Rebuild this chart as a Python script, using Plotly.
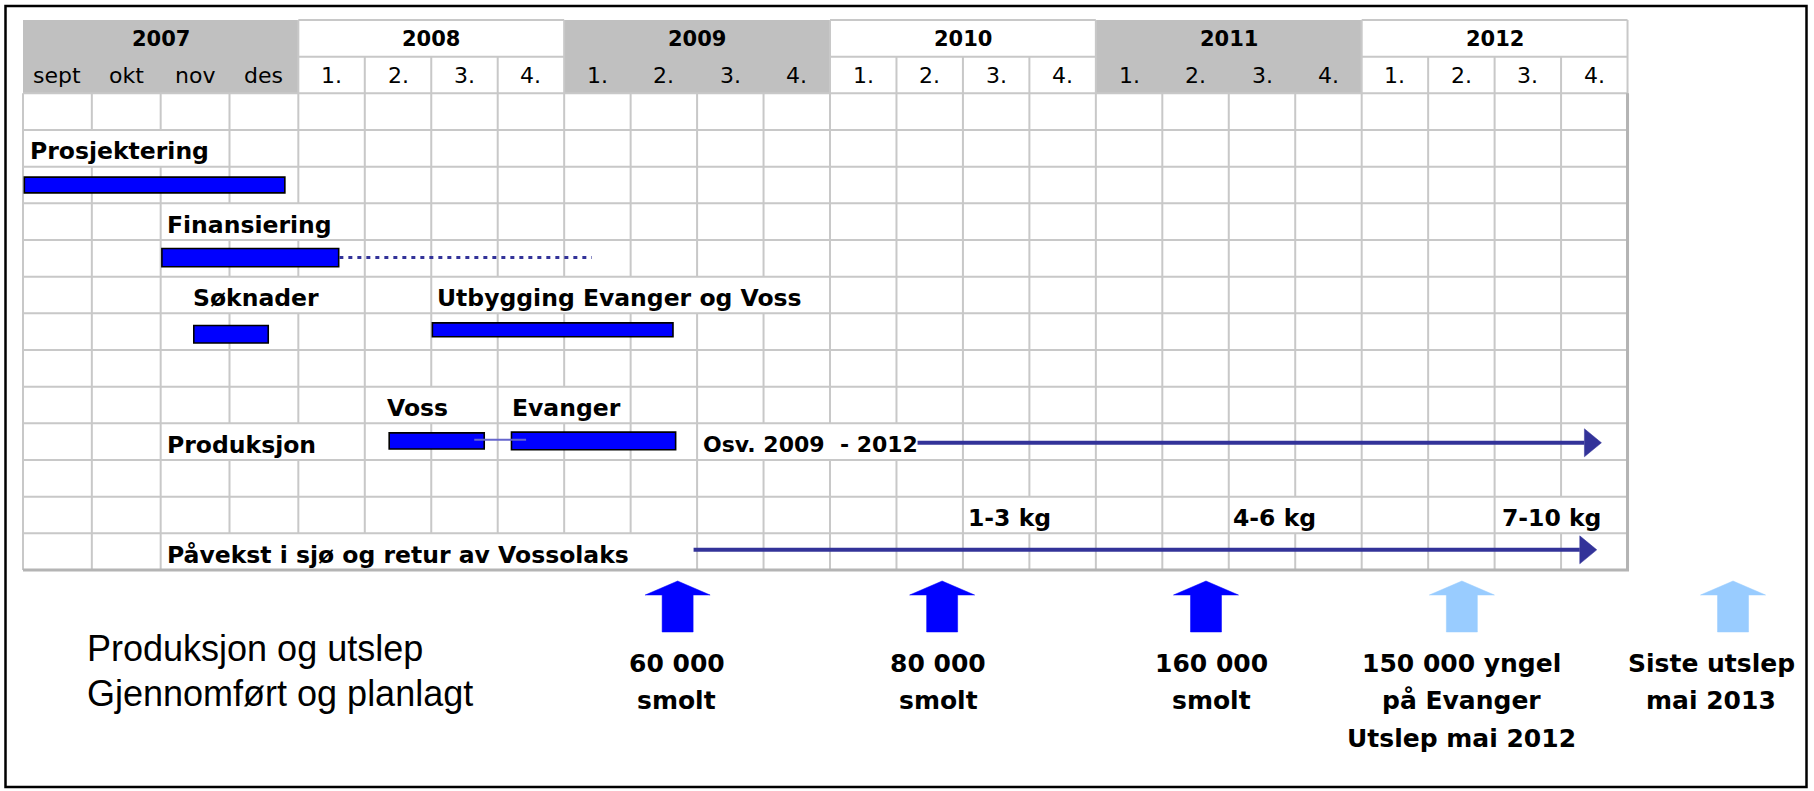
import plotly.graph_objects as go

# ------------------------------------------------------------------ data
years = ["2007", "2008", "2009", "2010", "2011", "2012"]
year_shaded = [True, False, True, False, True, False]
sub_labels = ["sept", "okt", "nov", "des"] + ["1.", "2.", "3.", "4."] * 5
# column widths in quarter-column units (month columns are drawn a bit wider)
col_widths = [1.0357] * 4 + [1.0] * 20

# activity bars (x in table units, y in table rows)
bar_names = ["Prosjektering", "Finansiering", "Søknader",
             "Utbygging Evanger og Voss", "Voss", "Evanger"]
bar_start = [0.02, 2.09, 2.57, 6.16, 5.51, 7.35]
bar_end = [3.94, 4.75, 3.69, 9.78, 6.94, 9.82]
bar_row = [4.50, 6.48, 8.57, 8.45, 11.48, 11.48]
bar_thick = [0.43, 0.50, 0.48, 0.38, 0.44, 0.48]

# Finansiering continuation (dotted) and Voss->Evanger connector
fin_cont_x = [4.76, 8.56]
fin_cont_row = 6.48
conn_x = [6.79, 7.57]
conn_row = 11.45

# long arrows: "Osv. 2009 - 2012" and "Påvekst i sjø ..."
arrow_start = [13.46, 10.09]
arrow_tip = [23.75, 23.68]
arrow_row = [11.53, 14.45]

# text labels inside the table
label_text = ["Prosjektering", "Finansiering", "Søknader",
              "Utbygging Evanger og Voss", "Voss", "Evanger", "Produksjon",
              "Osv. 2009  - 2012", "1-3 kg", "4-6 kg", "7-10 kg",
              "Påvekst i sjø og retur av Vossolaks"]
label_x = [0.10, 2.16, 2.56, 6.23, 5.47, 7.36, 2.16, 10.23, 14.22, 18.21,
           22.26, 2.16]
label_row = [3, 5, 7, 7, 10, 10, 11, 11, 13, 13, 13, 14]
# vertical grid lines covered by overflowing label text (Excel style)
label_hidden_cols = [[1, 2], [3, 4], [3, 4], [7, 8, 9, 10, 11], [6], [8],
                     [3, 4], [11, 12, 13], [15], [19], [23],
                     [3, 4, 5, 6, 7, 8, 9]]

# releases (blue = done, light blue = planned)
release_x = [9.85, 13.83, 17.80, 21.65, 25.73]
release_planned = [False, False, False, True, True]
release_text_x = [9.84, 13.77, 17.89, 21.65, 25.40]
release_text = [["60 000", "smolt"], ["80 000", "smolt"],
                ["160 000", "smolt"],
                ["150 000 yngel", "på Evanger", "Utslep mai 2012"],
                ["Siste utslep", "mai 2013"]]

side_note = ["Produksjon og utslep", "Gjennomført og planlagt"]
side_note_x = 0.96

# ------------------------------------------------------------------ geometry / style
W, H = 1814, 791
LEFT, TOP = 23, 20
UNIT_W, ROW_H = 66.46, 36.667
N_ROWS = 15
edges = [0.0]
for w in col_widths:
    edges.append(edges[-1] + w)
N_COLS = len(col_widths)
year_start_col = [0, 4, 8, 12, 16, 20]
x_range = [-LEFT / UNIT_W, (W - LEFT) / UNIT_W]
y_range = [(H - TOP) / ROW_H, -TOP / ROW_H]

GRID = "#c8c8c8"
SHADE = "#c0c0c0"
NAVY = "#333399"
BLUE = "#0000ff"
LIGHT = "#99ccff"
TFONT = "DejaVu Sans, Verdana, sans-serif"

fig = go.Figure()

# header shading
for s, sh in zip(year_start_col, year_shaded):
    if sh:
        fig.add_shape(type="rect", x0=edges[s], x1=edges[s + 4], y0=0, y1=2,
                      fillcolor=SHADE, line_width=0, layer="below")

# grid lines (as one path shape below the traces)
segs = []


def seg(x0, y0, x1, y1):
    segs.append(f"M{x0:.4f},{y0}L{x1:.4f},{y1}")


hidden = set()
for r, cols in zip(label_row, label_hidden_cols):
    for c in cols:
        hidden.add((r, c))
for r in range(2, N_ROWS):
    seg(0, r, edges[-1], r)
for r in range(2, N_ROWS):
    for c in range(0, N_COLS + 1):
        if (r, c) not in hidden:
            seg(edges[c], r, edges[c], r + 1)
for s, sh in zip(year_start_col, year_shaded):
    if not sh:
        seg(edges[s], 0, edges[s + 4], 0)
        seg(edges[s], 1, edges[s + 4], 1)
        seg(edges[s], 0, edges[s], 2)
        seg(edges[s + 4], 0, edges[s + 4], 2)
        for k in range(1, 4):
            seg(edges[s + k], 1, edges[s + k], 2)
fig.add_shape(type="path", path="".join(segs), xref="x", yref="y",
              line=dict(color=GRID, width=2), layer="below")
# table bottom/right edge shadow
fig.add_shape(type="path", xref="x", yref="y", layer="below",
              path=f"M0,{N_ROWS}L{edges[-1]:.4f},{N_ROWS}L{edges[-1]:.4f},2",
              line=dict(color="#b4b4b4", width=3))

# dotted continuation
fig.add_trace(go.Scatter(x=fin_cont_x, y=[fin_cont_row] * 2, mode="lines",
                         line=dict(color=NAVY, width=3, dash="4px,5px"),
                         hoverinfo="skip", showlegend=False))

# bars
fig.add_trace(go.Bar(
    y=bar_row, x=[e - s for s, e in zip(bar_start, bar_end)], base=bar_start,
    width=bar_thick, orientation="h", name="",
    marker=dict(color=BLUE, line=dict(color="#000000", width=1.6)),
    hoverinfo="skip", showlegend=False))

# connector
fig.add_trace(go.Scatter(x=conn_x, y=[conn_row] * 2, mode="lines",
                         line=dict(color="#6666cc", width=2),
                         hoverinfo="skip", showlegend=False))

# long arrows
HEAD_L = 17 / UNIT_W
HEAD_HH = 14 / ROW_H
for xs, xt, yr in zip(arrow_start, arrow_tip, arrow_row):
    fig.add_trace(go.Scatter(x=[xs, xt - HEAD_L], y=[yr, yr], mode="lines",
                             line=dict(color=NAVY, width=4),
                             hoverinfo="skip", showlegend=False))
    fig.add_trace(go.Scatter(x=[xt - HEAD_L, xt, xt - HEAD_L, xt - HEAD_L],
                             y=[yr - HEAD_HH, yr, yr + HEAD_HH, yr - HEAD_HH],
                             mode="lines", fill="toself", fillcolor=NAVY,
                             line=dict(color=NAVY, width=0.5),
                             hoverinfo="skip", showlegend=False))

# release block arrows
TIP_Y = (581 - TOP) / ROW_H
BASE_Y = (595 - TOP) / ROW_H
BOT_Y = (632 - TOP) / ROW_H
HW = 32.5 / UNIT_W
SW = 15.5 / UNIT_W
for cx, planned in zip(release_x, release_planned):
    col = LIGHT if planned else BLUE
    px = [cx, cx + HW, cx + SW, cx + SW, cx - SW, cx - SW, cx - HW, cx]
    py = [TIP_Y, BASE_Y, BASE_Y, BOT_Y, BOT_Y, BASE_Y, BASE_Y, TIP_Y]
    fig.add_trace(go.Scatter(x=px, y=py, mode="lines", fill="toself",
                             fillcolor=col, line=dict(color=col, width=0.5),
                             hoverinfo="skip", showlegend=False))

ann = []
# header texts
for yr, s in zip(years, year_start_col):
    ann.append(dict(x=(edges[s] + edges[s + 4]) / 2, y=0.52, text=yr,
                    font=dict(family=TFONT, size=21, color="#000", weight="bold")))
for i, lab in enumerate(sub_labels):
    ann.append(dict(x=(edges[i] + edges[i + 1]) / 2, y=1.52, text=lab,
                    font=dict(family=TFONT, size=22, color="#000")))
# table labels
for t, x, r in zip(label_text, label_x, label_row):
    size = 22 if t.startswith("Osv") else 23.5
    ann.append(dict(x=x, y=r + 0.58, text=t, xanchor="left",
                    font=dict(family=TFONT, size=size, color="#000", weight="bold")))
# release texts
for x, lines in zip(release_text_x, release_text):
    for i, ln in enumerate(lines):
        ann.append(dict(x=x, y=17.55 + i * 1.02, text=ln,
                        font=dict(family=TFONT, size=25, color="#000", weight="bold")))
# side note
for i, ln in enumerate(side_note):
    ann.append(dict(x=side_note_x, y=17.13 + i * 1.23, text=ln, xanchor="left",
                    font=dict(family="Liberation Sans, Arial, sans-serif",
                              size=36, color="#000")))
for a in ann:
    a.update(xref="x", yref="y", showarrow=False, borderpad=0, borderwidth=0)
    a.setdefault("xanchor", "center")
    a["yanchor"] = "middle"

# outer frame
fig.add_shape(type="rect", xref="paper", yref="paper",
              x0=5.5 / W, x1=1806.5 / W, y0=1 - 787 / H, y1=1 - 6 / H,
              line=dict(color="#000", width=2.5), fillcolor="rgba(0,0,0,0)",
              layer="above")

fig.update_layout(
    width=W, height=H, margin=dict(l=0, r=0, t=0, b=0),
    paper_bgcolor="white", plot_bgcolor="white",
    barmode="overlay", showlegend=False, annotations=ann,
    xaxis=dict(range=x_range, visible=False, fixedrange=True),
    yaxis=dict(range=y_range, visible=False, fixedrange=True),
)
fig.write_html("out.html", config={"displayModeBar": False},
               post_script="document.body.style.margin='0';"
                           "document.body.style.overflow='hidden';")
